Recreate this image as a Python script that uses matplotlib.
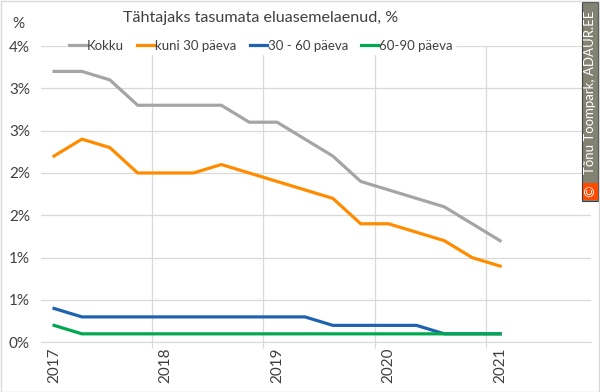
import math
import matplotlib
matplotlib.use('Agg')
import matplotlib.pyplot as plt
from matplotlib.patches import Rectangle
from matplotlib.ticker import FixedLocator, FuncFormatter

plt.rcParams['font.family'] = ['Lato', 'DejaVu Sans']

# ── Data (quarterly, %) ────────────────────────────────────────────────────────
quarters = [2017 + i * 0.25 for i in range(17)]
kokku    = [3.2, 3.2, 3.1, 2.8, 2.8, 2.8, 2.8, 2.6, 2.6, 2.4, 2.2, 1.9, 1.8, 1.7, 1.6, 1.4, 1.2]
kuni30   = [2.2, 2.4, 2.3, 2.0, 2.0, 2.0, 2.1, 2.0, 1.9, 1.8, 1.7, 1.4, 1.4, 1.3, 1.2, 1.0, 0.9]
p30_60   = [0.4, 0.3, 0.3, 0.3, 0.3, 0.3, 0.3, 0.3, 0.3, 0.3, 0.2, 0.2, 0.2, 0.2, 0.1, 0.1, 0.1]
p60_90   = [0.2, 0.1, 0.1, 0.1, 0.1, 0.1, 0.1, 0.1, 0.1, 0.1, 0.1, 0.1, 0.1, 0.1, 0.1, 0.1, 0.1]
years    = [2017, 2018, 2019, 2020, 2021]

series = [
    ('Kokku',         kokku,  '#a5a5a5'),
    ('kuni 30 päeva', kuni30, '#ff8c00'),
    ('30 - 60 päeva', p30_60, '#1f63b0'),
    ('60-90 päeva',   p60_90, '#00a94f'),
]

fig = plt.figure(figsize=(6, 3.92), dpi=100)
ax = fig.add_axes([41 / 600, 1 - 342.3 / 392, 550 / 600, 296.3 / 392])

for name, vals, col in series:
    ax.plot(quarters, vals, color=col, lw=2.3, label=name, solid_joinstyle='round')

ax.set_xlim(2016.883, 2021.815)
ax.set_ylim(0, 3.5)

# gridlines between categories, labels on the year points
ax.xaxis.set_major_locator(FixedLocator([y - 0.125 for y in years]))
ax.xaxis.set_major_formatter(FuncFormatter(lambda v, p: ''))
ax.xaxis.set_minor_locator(FixedLocator(years))
ax.xaxis.set_minor_formatter(FuncFormatter(lambda v, p: f'{int(round(v))}'))
ax.tick_params(axis='x', which='major', length=4, color='#d9d9d9', direction='out')
ax.tick_params(axis='x', which='minor', length=0, labelsize=11, labelrotation=90,
               pad=4, labelcolor='#404040')

ax.set_yticks([i * 0.5 for i in range(8)])
ax.yaxis.set_major_formatter(FuncFormatter(lambda v, p: f'{math.floor(v + 0.5)}%'))
ax.tick_params(axis='y', length=0, labelsize=11, labelcolor='#404040', pad=8)

ax.grid(True, which='major', color='#d9d9d9', lw=0.9)
ax.set_axisbelow(True)
for s in ['top', 'right', 'left']:
    ax.spines[s].set_visible(False)
ax.spines['bottom'].set_color('#d9d9d9')

leg = ax.legend(loc='center', bbox_to_anchor=(220 / 550, 1.0), ncol=4, frameon=True,
                fontsize=9.5, handlelength=1.3, handletextpad=0.05, columnspacing=1.0,
                borderpad=0.15, framealpha=1, edgecolor='white', fancybox=False)
for t in leg.get_texts():
    t.set_color('#404040')

fig.text(261 / 600, 1 - 18 / 392, 'Tähtajaks tasumata eluasemelaenud, %',
         ha='center', va='center', fontsize=11.6, color='#404040')
fig.text(18 / 600, 1 - 24 / 392, '%', ha='center', va='center', fontsize=11, color='#404040')

# watermark box
fig.patches.append(Rectangle((582 / 600, 1 - 201 / 392), 16 / 600, 199 / 392,
                             transform=fig.transFigure, facecolor='#838373',
                             edgecolor='#404040', lw=0.8))
fig.patches.append(Rectangle((582.5 / 600, 1 - 200 / 392), 15 / 600, 17 / 392,
                             transform=fig.transFigure, facecolor='#ff4a00',
                             edgecolor='none'))
fig.text(590 / 600, 1 - 191.5 / 392, '©', rotation=90, ha='center', va='center',
         fontsize=10, color='white')
fig.text(590.5 / 600, 1 - 92 / 392, 'Tõnu Toompark, ADAUR.EE', rotation=90,
         ha='center', va='center', fontsize=9.5, color='white')

# chart border
fig.patches.append(Rectangle((0.5 / 600, 0.5 / 392), 598.5 / 600, 390.5 / 392,
                             transform=fig.transFigure, facecolor='none',
                             edgecolor='#d9d9d9', lw=1))

plt.savefig('out.png', dpi=100)
